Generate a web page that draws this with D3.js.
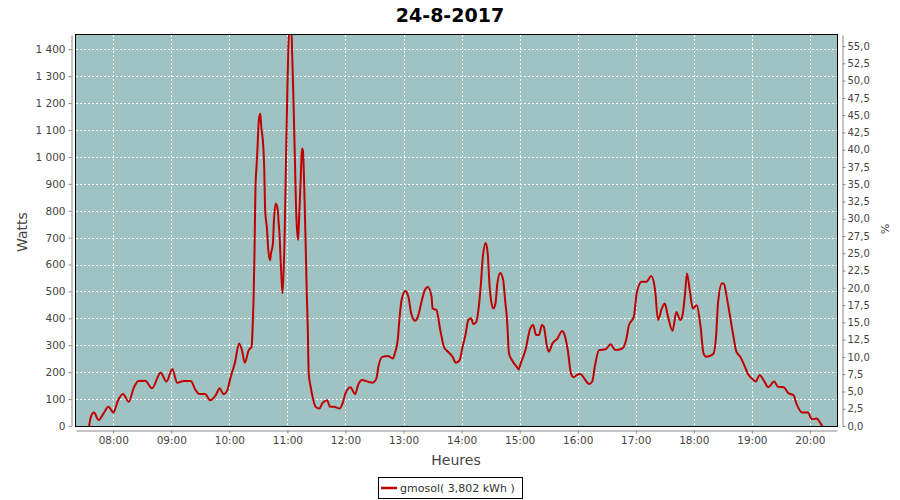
<!DOCTYPE html>
<html><head><meta charset="utf-8">
<script src="https://cdn.jsdelivr.net/npm/d3@7"></script>
<style>body{margin:0;background:#fff}svg{display:block}</style>
</head><body><svg id="c" width="900" height="500"></svg>
<script>
const title = "24-8-2017";
const seriesName = "gmosol( 3,802 kWh )";
const times = ["07:35","07:37","07:40","07:45","07:50","07:55","08:00","08:05","08:10","08:16","08:21","08:26","08:33","08:40","08:49","08:55","09:01","09:06","09:13","09:20","09:25","09:29","09:35","09:40","09:46","09:50","09:54","09:58","10:01","10:06","10:10","10:13","10:16","10:20","10:23","10:24","10:25","10:26","10:27","10:28","10:29","10:30","10:31","10:32","10:33","10:35","10:36","10:37","10:39","10:40","10:42","10:43","10:45","10:46","10:48","10:50","10:51","10:52","10:53","10:54","10:55","10:57","10:58","10:59","11:00","11:01","11:02","11:04","11:05","11:06","11:07","11:08","11:09","11:10","11:11","11:12","11:13","11:14","11:15","11:16","11:17","11:18","11:19","11:20","11:21","11:22","11:24","11:26","11:29","11:33","11:36","11:41","11:44","11:48","11:54","11:57","12:00","12:05","12:10","12:13","12:17","12:23","12:28","12:32","12:34","12:38","12:44","12:49","12:51","12:54","12:56","12:58","13:02","13:05","13:08","13:12","13:15","13:19","13:22","13:25","13:29","13:30","13:34","13:38","13:42","13:46","13:51","13:54","13:58","14:01","14:04","14:07","14:10","14:12","14:15","14:18","14:20","14:22","14:25","14:27","14:29","14:31","14:33","14:35","14:37","14:40","14:43","14:45","14:47","14:49","14:52","14:57","14:59","15:01","15:06","15:11","15:14","15:17","15:20","15:23","15:25","15:28","15:30","15:34","15:39","15:44","15:47","15:50","15:53","15:56","15:59","16:03","16:06","16:12","16:15","16:18","16:22","16:29","16:34","16:39","16:46","16:50","16:53","16:58","17:01","17:06","17:11","17:16","17:20","17:23","17:27","17:30","17:33","17:38","17:42","17:46","17:48","17:51","17:53","17:56","17:59","18:03","18:07","18:10","18:13","18:20","18:23","18:25","18:29","18:31","18:34","18:37","18:41","18:44","18:48","18:52","18:56","19:01","19:04","19:08","19:13","19:17","19:23","19:27","19:33","19:38","19:43","19:46","19:52","19:58","20:02","20:07","20:11","20:13"];
const watts = [0,35,50,22,47,72,50,96,119,90,140,167,168,140,198,165,212,161,167,167,134,119,119,96,115,140,118,134,177,239,307,282,235,282,294,363,470,650,890,960,1025,1111,1150,1160,1111,1043,963,802,728,666,616,641,678,759,827,802,753,703,616,542,493,691,876,1074,1260,1408,1480,1480,1371,1248,1099,951,802,728,691,765,851,944,1031,1025,938,802,653,493,370,196,146,109,72,65,84,96,72,72,65,84,121,144,119,152,171,165,161,177,220,257,260,251,270,319,406,468,502,480,418,391,408,468,505,517,480,437,431,356,292,276,255,235,245,294,338,394,400,379,385,450,530,630,680,641,517,455,437,455,530,569,542,468,394,270,245,220,210,232,282,363,375,338,338,375,369,301,276,307,325,353,332,276,196,181,189,193,181,156,165,227,282,285,304,282,288,319,375,406,493,536,536,557,505,394,437,455,412,354,424,394,406,493,567,499,437,449,369,270,257,267,332,455,530,530,480,418,332,276,257,227,193,173,165,189,165,144,165,146,144,121,115,84,50,50,25,28,10,0];
const hourTicks = ["08:00","09:00","10:00","11:00","12:00","13:00","14:00","15:00","16:00","17:00","18:00","19:00","20:00"];
const wattTicks = [0,100,200,300,400,500,600,700,800,900,1000,1100,1200,1300,1400];
const pctTicks = [0,2.5,5,7.5,10,12.5,15,17.5,20,22.5,25,27.5,30,32.5,35,37.5,40,42.5,45,47.5,50,52.5,55];
const xDomain = ["07:21:30","20:28:00"];
const wattMax = 1453, pctMax = 56.6;

const parse = d3.timeParse("%H:%M"), parseS = d3.timeParse("%H:%M:%S");
const svg = d3.select("#c");
const L = 76, R = 837, T = 35, B = 426;
const x = d3.scaleTime().domain(xDomain.map(parseS)).range([L, R]);
const y = d3.scaleLinear().domain([0, wattMax]).range([B, T]);
const y2 = d3.scaleLinear().domain([0, pctMax]).range([B, T]);
const loc = d3.formatLocale({decimal:",", thousands:" ", grouping:[3], currency:["",""]});
const fW = loc.format(",d"), fP = loc.format(".1f");
const FONT = "DejaVu Sans, sans-serif";

svg.append("text").attr("x", 450).attr("y", 22).attr("text-anchor","middle")
  .attr("font-family", FONT).attr("font-weight","bold").attr("font-size", 19).attr("fill","#000").text(title);

svg.append("rect").attr("x", L).attr("y", T).attr("width", R-L).attr("height", B-T).attr("fill", "#9ec3c2");

const grid = svg.append("g").attr("stroke","#fff").attr("stroke-width",1).attr("stroke-dasharray","2,2");
wattTicks.filter(d=>d>0).forEach(d=>grid.append("line").attr("x1",L).attr("x2",R).attr("y1",Math.round(y(d))+0.5).attr("y2",Math.round(y(d))+0.5));
hourTicks.forEach(h=>grid.append("line").attr("y1",T).attr("y2",B).attr("x1",Math.round(x(parse(h)))+0.5).attr("x2",Math.round(x(parse(h)))+0.5));

svg.append("clipPath").attr("id","clip").append("rect").attr("x",L).attr("y",T).attr("width",R-L).attr("height",B-T);
const data = times.map((t,i)=>({t:parse(t), v:watts[i]}));
svg.append("path").datum(data).attr("clip-path","url(#clip)")
  .attr("d", d3.line().curve(d3.curveMonotoneX).x(d=>x(d.t)).y(d=>y(d.v)))
  .attr("fill","none").attr("stroke","#c00000").attr("stroke-width",2).attr("stroke-linejoin","round");

svg.append("rect").attr("x", L-0.5).attr("y", T-0.5).attr("width", R-L+1).attr("height", B-T+1).attr("fill","none").attr("stroke","#000").attr("stroke-width",1);

function styleAxis(g, size){
  g.select(".domain").attr("stroke","#888");
  g.selectAll(".tick line").attr("stroke","#888");
  g.selectAll(".tick text").attr("fill","#444").attr("font-family",FONT).attr("font-size",size);
}
const ax = svg.append("g").attr("transform",`translate(0,${B+4.5})`)
  .call(d3.axisBottom(x).tickValues(hourTicks.map(parse)).tickFormat(d3.timeFormat("%H:%M")).tickSizeOuter(0).tickSizeInner(3).tickPadding(3));
styleAxis(ax, 10.5);
const ay = svg.append("g").attr("transform",`translate(${L-4.5},0)`)
  .call(d3.axisLeft(y).tickValues(wattTicks).tickFormat(fW).tickSizeOuter(0).tickSizeInner(3).tickPadding(3));
styleAxis(ay, 10.5);
const ay2 = svg.append("g").attr("transform",`translate(${R+5.5},0)`)
  .call(d3.axisRight(y2).tickValues(pctTicks).tickFormat(fP).tickSizeOuter(0).tickSizeInner(3).tickPadding(2));
styleAxis(ay2, 10);

svg.append("text").attr("transform","translate(27,232) rotate(-90)").attr("text-anchor","middle")
  .attr("font-family",FONT).attr("font-size",14).attr("fill","#444").text("Watts");
svg.append("text").attr("x",456).attr("y",465).attr("text-anchor","middle")
  .attr("font-family",FONT).attr("font-size",14).attr("fill","#444").text("Heures");
svg.append("text").attr("transform","translate(881,229) rotate(90)").attr("text-anchor","middle")
  .attr("font-family",FONT).attr("font-size",11).attr("fill","#444").text("%");

const lg = svg.append("g");
lg.append("rect").attr("x",378.5).attr("y",477.5).attr("width",144).attr("height",21).attr("fill","#fff").attr("stroke","#000");
lg.append("line").attr("x1",381).attr("x2",397).attr("y1",488).attr("y2",488).attr("stroke","#c00000").attr("stroke-width",2.5);
lg.append("text").attr("x",400).attr("y",492).attr("font-family",FONT).attr("font-size",11).attr("fill","#333").text(seriesName);
</script></body></html>
